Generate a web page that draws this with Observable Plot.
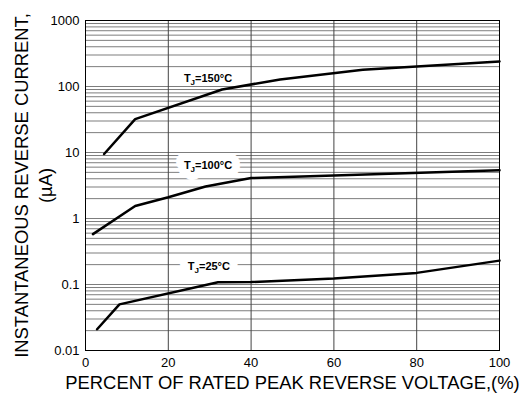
<!DOCTYPE html>
<html>
<head>
<meta charset="utf-8">
<script src="https://cdn.jsdelivr.net/npm/d3@7"></script>
<script src="https://cdn.jsdelivr.net/npm/@observablehq/plot@0.6"></script>
<style>
  html, body { margin: 0; padding: 0; background: #fff; }
  #chart { width: 528px; height: 399px; overflow: hidden; }
</style>
</head>
<body>
<div id="chart"></div>
<script>
// ---- data ----
const xTicks = [0, 20, 40, 60, 80, 100];
const yTicks = [0.01, 0.1, 1, 10, 100, 1000];
const yTickLabels = ["0.01", "0.1", "1", "10", "100", "1000"];
const decades = [0.01, 0.1, 1, 10, 100];
const minorMultipliers = [1, 2, 3, 4, 5, 6, 7, 8, 9];
const xGrid = [20, 40, 60, 80];

const x150 = [4.5, 12, 33, 47, 67, 100];
const y150 = [9.5, 32, 90, 128, 180, 240];

const x100 = [1.8, 12, 20, 29, 40, 60, 100];
const y100 = [0.58, 1.55, 2.1, 3.05, 4.1, 4.5, 5.4];

const x25 = [2.8, 8.2, 32, 40, 60, 80, 100];
const y25 = [0.021, 0.05, 0.108, 0.109, 0.123, 0.15, 0.23];

const labelText = ["TJ=150°C", "TJ=100°C", "TJ=25°C"];
const labelX = [29.6, 29.6, 29.8];
const labelY = [134, 6.4, 0.187];
const labelBoxed = [false, true, true];

const xTitle = "PERCENT OF RATED PEAK REVERSE VOLTAGE,(%)";
const yTitle1 = "INSTANTANEOUS REVERSE CURRENT,";
const yTitle2 = "(µA)";

// ---- build tables ----
const yGrid = decades.flatMap(d => minorMultipliers.map(m => d * m)).concat([1000]);
const series = [
  ...x150.map((x, i) => ({s: "150", x, y: y150[i]})),
  ...x100.map((x, i) => ({s: "100", x, y: y100[i]})),
  ...x25.map((x, i) => ({s: "25", x, y: y25[i]}))
];
const labels = labelText.map((t, i) => ({t, x: labelX[i], y: labelY[i], boxed: labelBoxed[i]}));

const font = "'Liberation Sans', Arial, Helvetica, sans-serif";

const chart = Plot.plot({
  width: 528,
  height: 399,
  marginLeft: 85,
  marginRight: 29,
  marginTop: 20,
  marginBottom: 49,
  style: {fontFamily: font, fontSize: "13px", background: "#fff", color: "#000"},
  x: {domain: [0, 100]},
  y: {type: "log", domain: [0.01, 1000]},
  marks: [
    Plot.ruleY(yGrid, {stroke: "#666", strokeWidth: 0.85}),
    Plot.ruleX(xGrid, {stroke: "#444", strokeWidth: 1}),
    // white box behind labels (halo)
    Plot.text(labels.filter(d => d.boxed), {
      x: "x", y: "y", text: "t",
      fill: "#fff", stroke: "#fff", strokeWidth: 16, strokeLinejoin: "round",
      fontSize: 11, fontWeight: "bold", className: "tjlabel"
    }),
    Plot.text(labels, {
      x: "x", y: "y", text: "t",
      fill: "#000", fontSize: 11, fontWeight: "bold", className: "tjlabel"
    }),
    Plot.line(series, {x: "x", y: "y", z: "s", stroke: "#000", strokeWidth: 2.5, strokeLinejoin: "round"}),
    Plot.frame({stroke: "#000", strokeWidth: 1}),
    Plot.axisX({ticks: xTicks, tickSize: 0, tickPadding: 7, label: null, fontSize: 13}),
    Plot.axisY({ticks: yTicks, tickSize: 0, tickPadding: 6, label: null, fontSize: 13,
      tickFormat: d => yTickLabels[yTicks.indexOf(d)] ?? ""}),
    Plot.text([xTitle], {text: d => d, frameAnchor: "bottom", dy: 38, fontSize: 18.4}),
    Plot.text([yTitle1], {text: d => d, frameAnchor: "left", textAnchor: "middle", dx: -63.5, rotate: -90, fontSize: 18.4}),
    Plot.text([yTitle2], {text: d => d, frameAnchor: "left", textAnchor: "middle", dx: -39.5, rotate: -90, fontSize: 18.4})
  ]
});

document.getElementById("chart").appendChild(chart);

// subscript J in the T_J labels
d3.select(chart).selectAll("g.tjlabel text").each(function() {
  const full = this.textContent;
  const rest = full.slice(2);
  const t = d3.select(this);
  t.text(null);
  t.append("tspan").text("T");
  t.append("tspan").attr("dy", 3).attr("font-size", 8).text("J");
  t.append("tspan").attr("dy", -3).text(rest);
});
</script>
</body>
</html>
